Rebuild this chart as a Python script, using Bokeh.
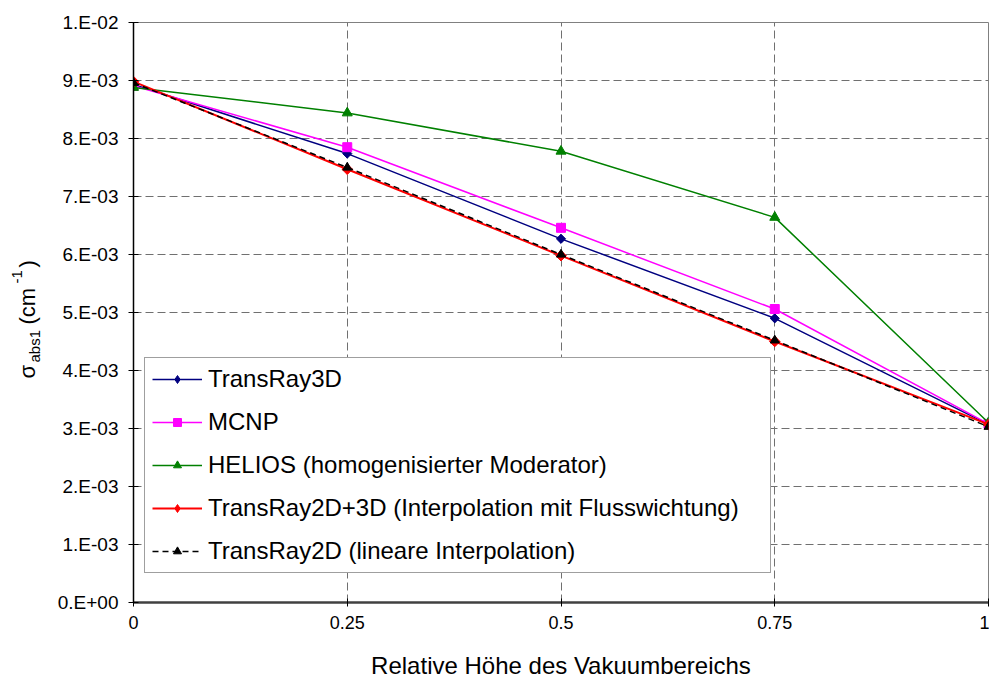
import math
from bokeh.plotting import figure
from bokeh.layouts import row
from bokeh.models import (Range1d, FixedTicker, CustomJSTickFormatter,
                          Legend, LegendItem)
from bokeh.core.properties import value
from bokeh.embed import file_html
from bokeh.resources import INLINE

# ---- data ----
x_vals = [0, 0.25, 0.5, 0.75, 1]
transray3d = [8.93e-3, 7.74e-3, 6.27e-3, 4.90e-3, 3.07e-3]
mcnp = [8.91e-3, 7.85e-3, 6.46e-3, 5.06e-3, 3.08e-3]
helios = [8.88e-3, 8.44e-3, 7.78e-3, 6.64e-3, 3.10e-3]
tr2d3d = [8.98e-3, 7.47e-3, 5.98e-3, 4.50e-3, 3.07e-3]
tr2d = [8.96e-3, 7.50e-3, 6.00e-3, 4.52e-3, 3.03e-3]

series_names = ["TransRay3D", "MCNP", "HELIOS (homogenisierter Moderator)",
                "TransRay2D+3D (Interpolation mit Flusswichtung)",
                "TransRay2D (lineare Interpolation)"]

x_ticks = [0, 0.25, 0.5, 0.75, 1]
x_tick_labels = ["0", "0.25", "0.5", "0.75", "1"]
y_ticks = [0.0, 0.001, 0.002, 0.003, 0.004, 0.005, 0.006, 0.007, 0.008, 0.009, 0.01]
y_tick_labels = ["0.E+00", "1.E-03", "2.E-03", "3.E-03", "4.E-03", "5.E-03",
                 "6.E-03", "7.E-03", "8.E-03", "9.E-03", "1.E-02"]

x_title = "Relative Höhe des Vakuumbereichs"
# y title pieces: sigma_abs1 (cm^-1)
y_title_parts = ["σ", "abs1", "(cm", "-1", ")"]

FONT = "Liberation Sans"
LEFT_W = 50
H = 681
FRAME_TOP, FRAME_BOTTOM = 22, 602   # page pixels of the plot frame

# ---- left strip holding the rotated y-axis title ----
# the row aligns this strip's frame with the main frame, so map it to page pixels
lf = figure(width=LEFT_W, height=H, output_backend="svg", toolbar_location=None,
            x_range=Range1d(0, LEFT_W),
            y_range=Range1d(H - FRAME_BOTTOM, H - FRAME_TOP),
            title=None, x_axis_location=None, y_axis_location=None,
            min_border=0)
lf.grid.visible = False
lf.outline_line_color = None
lf.background_fill_color = "white"
lf.border_fill_color = "white"

# (x in strip, page-y of text start, font size) for each title piece
part_pos = [(27, 378, "22px"), (34, 362, "15px"), (27, 324, "22px"),
            (16, 283, "15px"), (27, 267, "22px")]
for txt, (px, py, fs) in zip(y_title_parts, part_pos):
    lf.text(x=[px], y=[H - py], text=[txt], angle=math.pi / 2, text_align="left",
            text_baseline="alphabetic", text_font=value(FONT),
            text_font_size=value(fs), text_color="black")

# ---- main plot ----
p = figure(width=989 - LEFT_W, height=H, output_backend="svg", toolbar_location=None,
           x_range=Range1d(0, 1), y_range=Range1d(0, 0.01), title=None,
           min_border_left=133 - LEFT_W, min_border_right=1, min_border_top=FRAME_TOP,
           min_border_bottom=H - FRAME_BOTTOM)
p.background_fill_color = "white"
p.border_fill_color = "white"
p.outline_line_color = "#808080"
p.outline_line_width = 1

p.xaxis.ticker = FixedTicker(ticks=x_ticks)
p.xaxis.formatter = CustomJSTickFormatter(args=dict(vals=x_ticks, labs=x_tick_labels), code="""
for (let i = 0; i < vals.length; i++) { if (Math.abs(vals[i] - tick) < 1e-9) return labs[i]; }
return "";
""")
p.yaxis.ticker = FixedTicker(ticks=y_ticks)
p.yaxis.formatter = CustomJSTickFormatter(args=dict(vals=y_ticks, labs=y_tick_labels), code="""
for (let i = 0; i < vals.length; i++) { if (Math.abs(vals[i] - tick) < 1e-12) return labs[i]; }
return "";
""")
for ax in (p.xaxis[0], p.yaxis[0]):
    ax.minor_tick_line_color = None
    ax.major_label_text_font = FONT
    ax.major_label_text_color = "black"
    ax.major_tick_line_color = "black"
p.yaxis.major_label_text_font_size = "19px"
p.xaxis.major_label_text_font_size = "18px"
p.yaxis.axis_line_color = "black"
p.yaxis.axis_line_width = 1.5
p.yaxis.major_tick_in = 5
p.yaxis.major_tick_out = 5
p.yaxis.major_label_standoff = 10
p.xaxis.axis_line_color = "#404040"
p.xaxis.axis_line_width = 2.5
p.xaxis.major_tick_in = 4
p.xaxis.major_tick_out = 4
p.xaxis.major_label_standoff = 9
p.xaxis.axis_label = x_title
p.xaxis.axis_label_text_font = FONT
p.xaxis.axis_label_text_font_size = "24px"
p.xaxis.axis_label_text_font_style = "normal"
p.xaxis.axis_label_text_color = "black"
p.xaxis.axis_label_standoff = 20

for g in (p.xgrid[0], p.ygrid[0]):
    g.grid_line_color = "#707070"
    g.grid_line_dash = "8 4"
    g.grid_line_width = 1

styles = [
    dict(color="#000080", marker="square", angle=math.pi / 4, size=6.5, dash="solid", lw=1.5, lmark="diamond"),
    dict(color="#FF00FF", marker="square", angle=0, size=9, dash="solid", lw=1.5, lmark=None),
    dict(color="#008000", marker="triangle", angle=0, size=10, dash="solid", lw=1.5, lmark=None),
    dict(color="#FF0000", marker="square", angle=math.pi / 4, size=7.5, dash="solid", lw=2, lmark="diamond"),
    dict(color="black", marker="triangle", angle=0, size=9, dash="6 4", lw=1.5, lmark=None),
]
data = [transray3d, mcnp, helios, tr2d3d, tr2d]
items = []
for name, ys, st in zip(series_names, data, styles):
    lr = p.line(x_vals, ys, line_color=st["color"], line_width=st["lw"], line_dash=st["dash"])
    if st["lmark"]:
        # legend key (legend ignores marker rotation); hidden under the rotated squares
        kr = p.scatter(x_vals, ys, marker=st["lmark"], size=8,
                       fill_color=st["color"], line_color=st["color"])
    sr = p.scatter(x_vals, ys, marker=st["marker"], angle=st["angle"], size=st["size"],
                   fill_color=st["color"], line_color=st["color"])
    if not st["lmark"]:
        kr = sr
    items.append(LegendItem(label=name, renderers=[lr, kr]))

legend = Legend(items=items, location=(11, 29), margin=0, padding=7,
                glyph_width=50, glyph_height=20, label_height=26, label_width=555,
                label_standoff=6, spacing=15,
                label_text_font=FONT, label_text_font_size="24px",
                label_text_color="black",
                border_line_color="#404040", border_line_width=1,
                background_fill_color="white", background_fill_alpha=1)
p.add_layout(legend)

layout = row(lf, p, spacing=0)
open("out.html", "w").write(file_html(layout, INLINE))
